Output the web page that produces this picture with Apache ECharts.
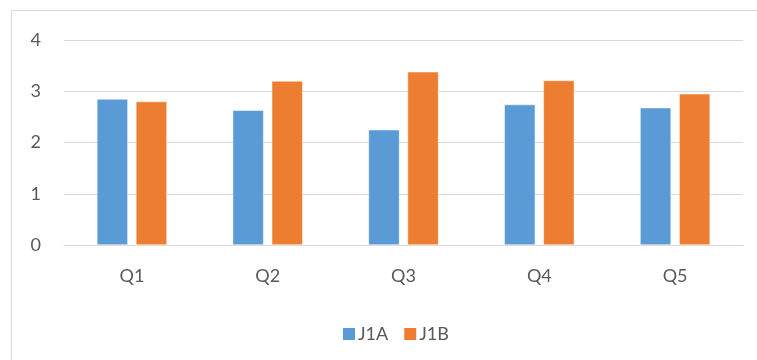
<!DOCTYPE html>
<html>
<head>
<meta charset="utf-8">
<script src="https://cdn.jsdelivr.net/npm/echarts@6/dist/echarts.min.js"></script>
<style>
html,body{margin:0;padding:0;background:#fff;}
#main{width:757px;height:360px;}
</style>
</head>
<body>
<div id="main"></div>
<script>
const categories = ['Q1', 'Q2', 'Q3', 'Q4', 'Q5'];
const seriesNames = ['J1A', 'J1B'];
const j1a = [2.85, 2.63, 2.25, 2.74, 2.68];
const j1b = [2.80, 3.20, 3.38, 3.21, 2.95];
const yTicks = [0, 1, 2, 3, 4];

const chart = echarts.init(document.getElementById('main'), null, {renderer: 'canvas'});
const font = 'Lato, "Open Sans", sans-serif';
chart.setOption({
  animation: false,
  backgroundColor: '#ffffff',
  graphic: [{
    type: 'rect',
    shape: {x: 11.5, y: 10.5, width: 800, height: 400},
    style: {fill: 'none', stroke: '#D9D9D9', lineWidth: 1},
    silent: true, z: -1
  }],
  grid: {left: 64, right: 14, top: 40, bottom: 115, containLabel: false},
  legend: {
    data: seriesNames,
    left: 336, top: 320,
    itemWidth: 14, itemHeight: 14, itemGap: 14,
    icon: 'rect',
    textStyle: {color: '#595959', fontSize: 18, fontFamily: font, padding: [0,0,0,-3]}
  },
  xAxis: {
    type: 'category',
    data: categories,
    axisLine: {show: true, lineStyle: {color: '#D9D9D9', width: 1}},
    axisTick: {show: false},
    axisLabel: {color: '#595959', fontSize: 18, fontFamily: font, margin: 22}
  },
  yAxis: {
    type: 'value',
    min: yTicks[0], max: yTicks[yTicks.length - 1], interval: 1,
    axisLine: {show: false},
    axisTick: {show: false},
    splitLine: {lineStyle: {color: '#D9D9D9', width: 1}},
    axisLabel: {color: '#595959', fontSize: 18, fontFamily: font, margin: 23}
  },
  series: [
    {name: seriesNames[0], type: 'bar', data: j1a, barWidth: 31, barGap: '26%',
     itemStyle: {color: '#5B9BD5', borderColor: '#ffffff', borderWidth: 0.5}},
    {name: seriesNames[1], type: 'bar', data: j1b, barWidth: 31, barGap: '26%',
     itemStyle: {color: '#ED7D31', borderColor: '#ffffff', borderWidth: 0.5}}
  ]
});
</script>
</body>
</html>
